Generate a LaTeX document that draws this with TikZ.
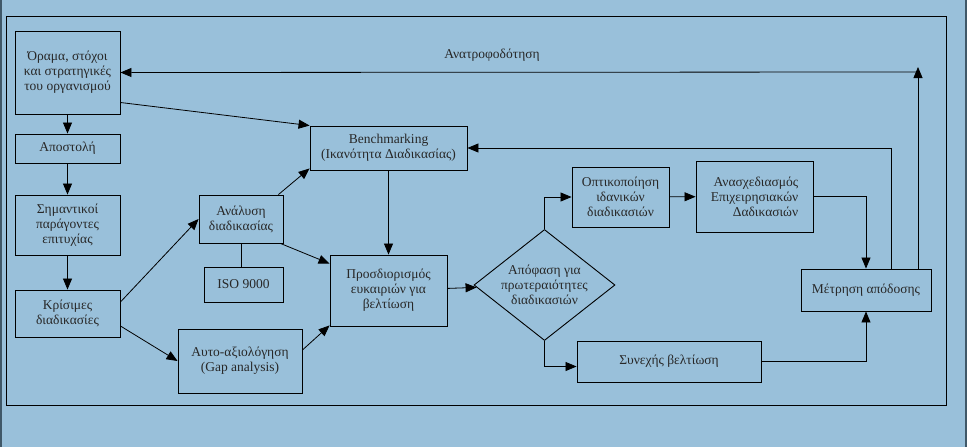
\documentclass[tikz,border=0pt]{standalone}
\usepackage{fontspec}
\setmainfont{Liberation Serif}
\usetikzlibrary{arrows.meta,shapes.geometric}

\definecolor{fondo}{RGB}{153,192,218}
\definecolor{borde}{RGB}{64,88,104}
\definecolor{texto}{RGB}{40,40,40}

\tikzset{
	caja/.style={draw, line width=0.9pt, align=center, inner sep=1pt, text=texto, font=\fontsize{13.5}{15}\selectfont},
	rombo/.style={caja, diamond, aspect=1.27, inner sep=0pt, minimum width=141pt, minimum height=111pt},
	flecha/.style={-{Triangle[length=11pt,width=9pt]}, line width=0.8pt}
}

\begin{document}
	\begin{tikzpicture}[x=1pt, y=-1pt]

		\fill[fondo] (0,0) rectangle (967,447);
		\fill[borde] (0,0) rectangle (1.5,447);
		\fill[borde] (965,0) rectangle (967,447);
		\draw[line width=1pt] (6,16) rectangle (946,405); %Marco

		\node[caja, minimum width=105pt, minimum height=83pt] (orama) at (67.5,72.5) {Όραμα, στόχοι\\ και στρατηγικές\\ του οργανισμού};
		\node[caja, minimum width=105pt, minimum height=29pt] (apostoli) at (67.5,148.5) {Αποστολή};
		\node[caja, minimum width=105pt, minimum height=60pt] (simantikoi) at (67.5,225) {Σημαντικοί\\ παράγοντες\\ επιτυχίας};
		\node[caja, minimum width=105pt, minimum height=47pt] (krisimes) at (67.5,313.5) {Κρίσιμες\\ διαδικασίες};

		\node[caja, minimum width=84pt, minimum height=48pt] (analysi) at (241,219) {Ανάλυση\\ διαδικασίας};
		\node[caja, minimum width=79pt, minimum height=35pt] (iso) at (243.5,284.5) {ISO 9000};
		\node[caja, minimum width=124pt, minimum height=64pt] (aytoax) at (240,361) {Αυτο-αξιολόγηση\\ (Gap analysis)};

		\node[caja, minimum width=157pt, minimum height=44pt] (bench) at (388.5,148) {Benchmarking\\ (Ικανότητα Διαδικασίας)};
		\node[caja, minimum width=117pt, minimum height=71pt] (prosd) at (388.5,290.5) {Προσδιορισμός\\ ευκαιριών για\\ βελτίωση};

		\node[rombo] (apofasi) at (544.5,285) {Απόφαση για\\ πρωτεραιότητες\\ διαδικασιών};

		\node[caja, minimum width=97pt, minimum height=60pt] (optik) at (620.5,197) {Οπτικοποίηση\\ ιδανικών\\ διαδικασιών};
		\node[caja, align=right, minimum width=117pt, minimum height=71pt] (anasx) at (754.5,196.5) {Ανασχεδιασμός\\ Επιχειρησιακών\\ Δαδικασιών};
		\node[caja, minimum width=184pt, minimum height=41pt] (synex) at (669,361.5) {Συνεχής βελτίωση};
		\node[caja, minimum width=130pt, minimum height=42pt] (metrisi) at (866,290) {Μέτρηση απόδοσης};

		\node[text=texto, font=\fontsize{13.5}{15}\selectfont] (anatr) at (492,55) {Ανατροφοδότηση};
		\coordinate (fbtop) at (918,67);
		\coordinate (fbcorner) at (918,72);

		% columna izquierda
		\draw[flecha] (orama) -- (apostoli);
		\draw[flecha] (apostoli) -- (simantikoi);
		\draw[flecha] (simantikoi) -- (krisimes);
		\draw[flecha] ([yshift=-30pt]orama.east) -- (bench.north west);
		\draw[flecha] ([yshift=11.5pt]krisimes.east) -- (analysi.west);
		\draw[flecha] ([yshift=-12.5pt]krisimes.east) -- (aytoax.west);

		% centro
		\draw[flecha] ([xshift=-5pt]analysi.north east) -- ([yshift=2pt]bench.south west);
		\draw[flecha] ([xshift=-3pt]analysi.south east) -- ([yshift=-9pt]prosd.north west);
		\draw[line width=0.8pt] (analysi.south) -- (analysi.south |- iso.north);
		\draw[flecha] ([yshift=11pt]aytoax.east) -- ([yshift=1pt]prosd.south west);
		\draw[flecha] (bench) -- (prosd);
		\draw[flecha] (prosd) -- (apofasi);

		% derecha
		\draw[flecha] (apofasi.north) |- (optik.west);
		\draw[flecha] (apofasi.south) |- ([yshift=-5pt]synex.west);
		\draw[flecha] (optik) -- (anasx);
		\draw[flecha] (anasx.east) -| (metrisi.north);
		\draw[flecha] (synex.east) -| (metrisi.south);
		\draw[flecha] ([xshift=25pt]metrisi.north) |- (bench.east);
		\draw[flecha] ([xshift=52pt]metrisi.north) -- (fbtop);
		\draw[flecha] (fbcorner) -- (orama.east); %Ανατροφοδότηση

	\end{tikzpicture}
\end{document}
